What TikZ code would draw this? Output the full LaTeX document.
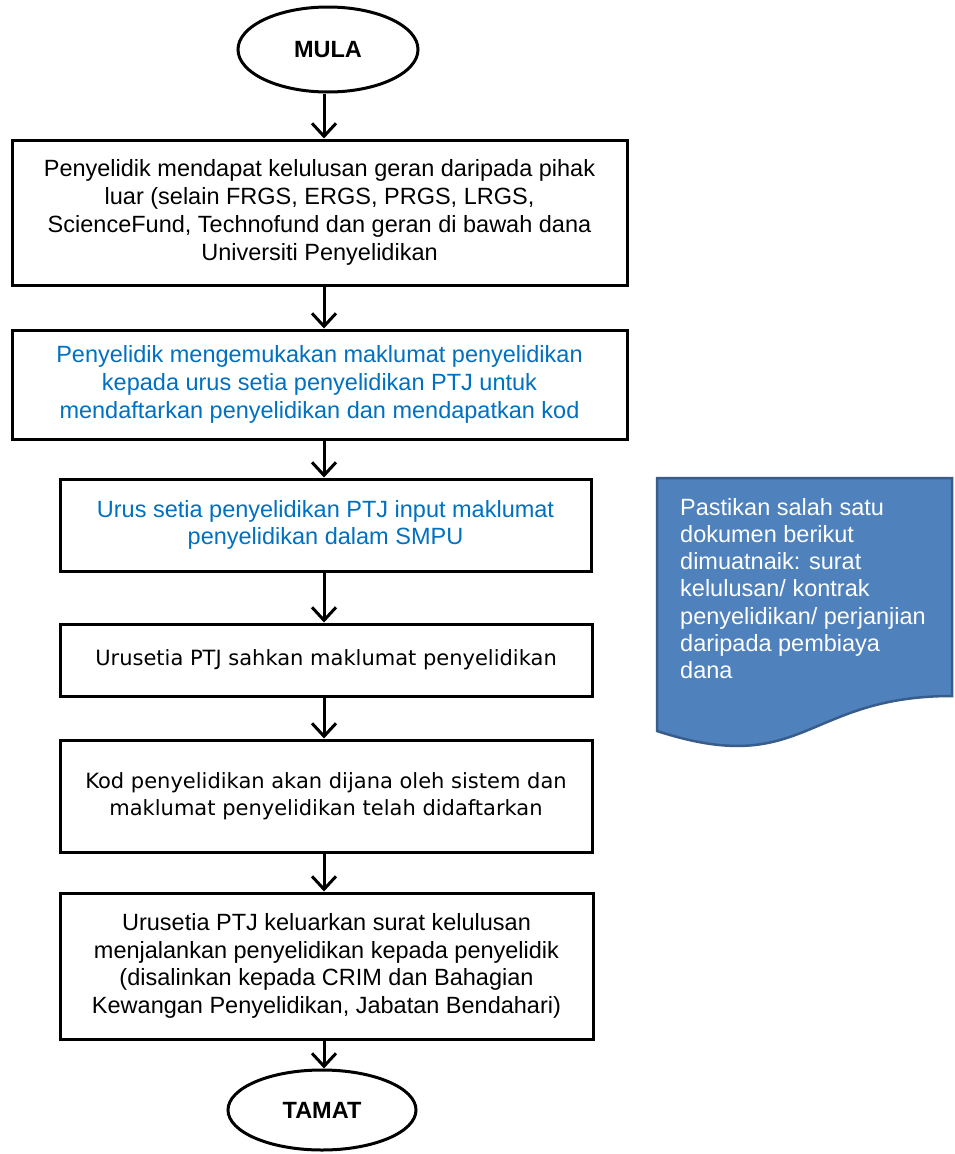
\documentclass[tikz,border=0pt]{standalone}
\usepackage{fontspec}
\setmainfont{Liberation Sans}
\newfontfamily\tahomalike{DejaVu Sans}
\usetikzlibrary{shapes.geometric,arrows.meta}
\definecolor{txtblue}{HTML}{0070C0}
\definecolor{notefill}{HTML}{4F81BD}
\definecolor{noteedge}{HTML}{385D8A}
\tikzset{
  boxnode/.style={draw=black, line width=3pt, rectangle, inner sep=0pt, align=center,
    font=\fontsize{23.5}{27.8}\selectfont},
  terminal/.style={draw=black, line width=3pt, ellipse, inner sep=0pt,
    font=\fontsize{23.5}{27.8}\selectfont\bfseries},
  arr/.style={line width=3pt, -{Straight Barb[length=13pt,width=24pt]}},
}
\begin{document}
\begin{tikzpicture}[x=1pt,y=-1pt]
\useasboundingbox (0,0) rectangle (954,1154);
\fill[white] (0,0) rectangle (954,1154);
\coordinate (ax) at (324,0);

\node[terminal, minimum width=180, minimum height=85] (mula) at (328,49.5) {MULA};

\node[boxnode, minimum width=615, minimum height=145] (b1) at (319.5,212.5)
 {Penyelidik mendapat kelulusan geran daripada pihak\\
  luar (selain FRGS, ERGS, PRGS, LRGS,\\
  ScienceFund, Technofund dan geran di bawah dana\\
  Universiti Penyelidikan};

\node[boxnode, minimum width=615, minimum height=109, text=txtblue] (b2) at (319.5,384.5)
 {Penyelidik mengemukakan maklumat penyelidikan\\
  kepada urus setia penyelidikan PTJ untuk\\
  mendaftarkan penyelidikan dan mendapatkan kod};

\node[boxnode, minimum width=531, minimum height=92, text=txtblue] (b3) at (325.5,525)
 {Urus setia penyelidikan PTJ input maklumat\\
  penyelidikan dalam SMPU};

\node[boxnode, minimum width=532, minimum height=72,
  font=\fontsize{21}{27}\tahomalike] (b4) at (326,660)
 {Urusetia PTJ sahkan maklumat penyelidikan};

\node[boxnode, minimum width=532, minimum height=112,
  font=\fontsize{21}{27.5}\tahomalike] (b5) at (326,796)
 {Kod penyelidikan akan dijana oleh sistem dan\\
  maklumat penyelidikan telah didaftarkan};

\node[boxnode, minimum width=533, minimum height=146] (b6) at (326.5,966)
 {Urusetia PTJ keluarkan surat kelulusan\\
  menjalankan penyelidikan kepada penyelidik\\
  (disalinkan kepada CRIM dan Bahagian\\
  Kewangan Penyelidikan, Jabatan Bendahari)};

\node[terminal, minimum width=188, minimum height=80] (tamat) at (322,1110) {TAMAT};

\draw[arr] (mula.south -| ax) -- (b1.north -| ax);
\draw[arr] (b1.south -| ax) -- (b2.north -| ax);
\draw[arr] (b2.south -| ax) -- (b3.north -| ax);
\draw[arr] (b3.south -| ax) -- (b4.north -| ax);
\draw[arr] (b4.south -| ax) -- (b5.north -| ax);
\draw[arr] (b5.south -| ax) -- (b6.north -| ax);
\draw[arr] (b6.south -| ax) -- (tamat.north -| ax);

% document shape note
\draw[fill=notefill, draw=noteedge, line width=2.5pt]
  (657,478) -- (952,478) -- (952,696)
  .. controls (804.5,696) and (804.5,779) .. (657,731) -- cycle;
\node[anchor=north west, inner sep=0pt, align=left, text=white,
  font=\fontsize{23.5}{27.2}\selectfont] (note) at (680,498)
 {Pastikan salah satu\\
  dokumen berikut\\
  dimuatnaik: surat\\
  kelulusan/ kontrak\\
  penyelidikan/ perjanjian\\
  daripada pembiaya\\
  dana};
\end{tikzpicture}
\end{document}
